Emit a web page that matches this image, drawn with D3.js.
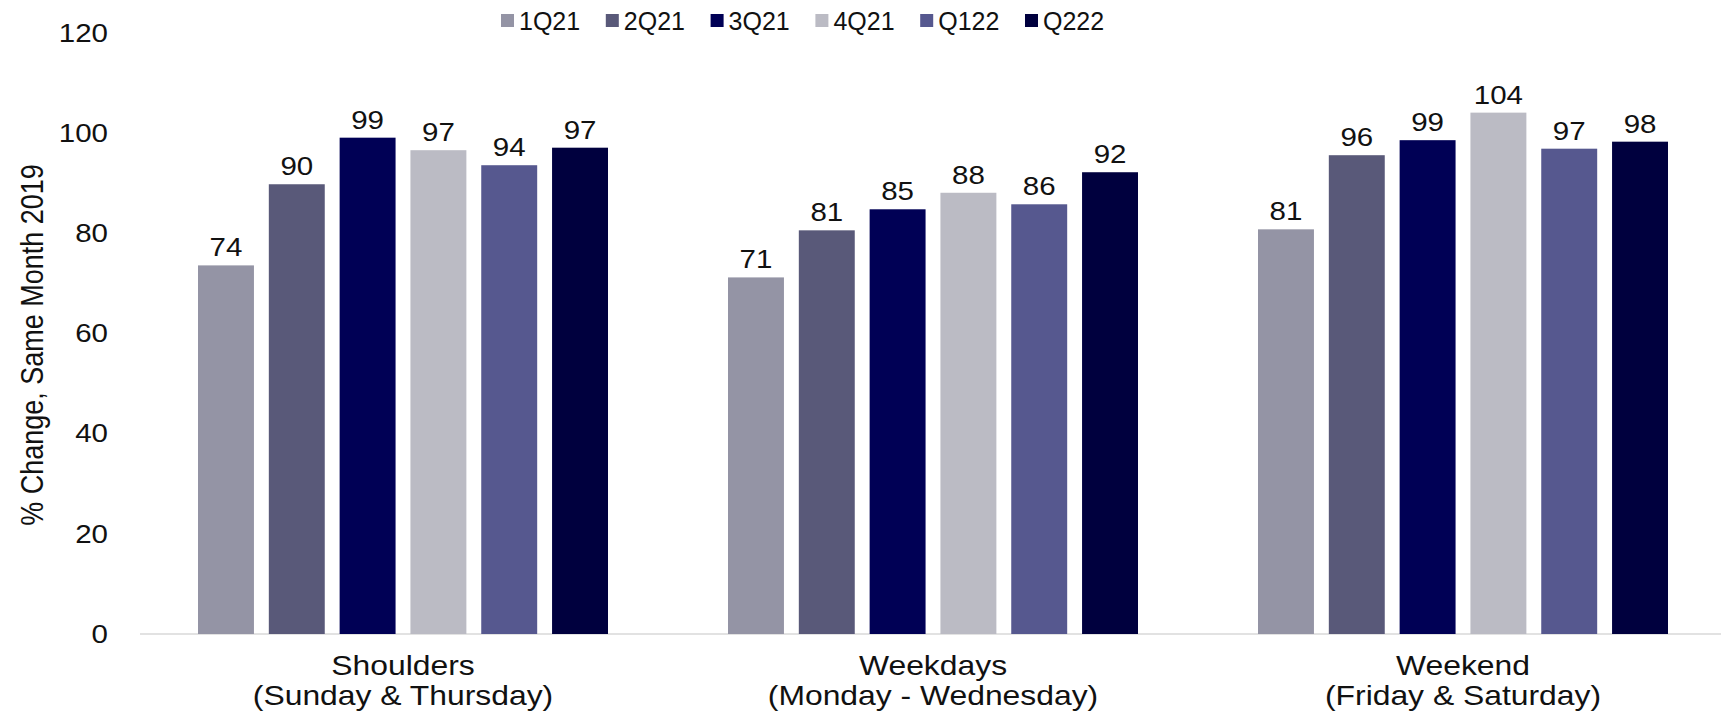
<!DOCTYPE html>
<html lang="en">
<head>
	<meta charset="UTF-8">
	<title>Document</title>
	<style type="text/css">
	  body { margin: 0; background: #fff; }
	  svg text { font-family: "Liberation Sans", Arial, sans-serif; fill: #111; }
	</style>
	<script src="https://cdn.jsdelivr.net/npm/d3@7"></script>
</head>
<body>
  <script type="text/javascript">
		// data
		var categories = [['Shoulders', '(Sunday & Thursday)'], ['Weekdays', '(Monday - Wednesday)'], ['Weekend', '(Friday & Saturday)']];
		var series = ['1Q21', '2Q21', '3Q21', '4Q21', 'Q122', 'Q222'];
		var shoulders = [73.6, 89.8, 99.1, 96.6, 93.6, 97.1];
		var weekdays = [71.2, 80.6, 84.8, 88.1, 85.8, 92.2];
		var weekend = [80.8, 95.6, 98.6, 104.1, 96.9, 98.3];
		var yTicks = [0, 20, 40, 60, 80, 100, 120];
		var colors = ['#9494a5', '#595979', '#000055', '#bbbbc4', '#56588f', '#00003e'];

		var values = [shoulders, weekdays, weekend];
		var width = 1721;
		var height = 712;
		var sx = 1.18;      // text in the picture is a bit stretched horizontally

		var svg = d3.select('body')
								.append('svg')
								.attr('width', width)
								.attr('height', height);

		var x0 = d3.scaleBand()
							 .domain(d3.range(categories.length))
							 .range([138, 1728]);
		var x1 = d3.scaleBand()
							 .domain(series)
							 .range([60, x0.bandwidth() - 60])
							 .paddingInner(0.21);
		var y = d3.scaleLinear()
							.domain([0, 120])
							.range([634, 33]);
		var color = d3.scaleOrdinal().domain(series).range(colors);

		// y axis labels
		svg.append('g')
			 .selectAll('text')
			 .data(yTicks)
			 .enter()
			 .append('text')
			 .attr('transform', function(d) { return 'translate(108,' + y(d) + ') scale(' + sx + ',1)'; })
			 .attr('text-anchor', 'end')
			 .attr('dy', '0.35em')
			 .attr('font-size', '25px')
			 .text(function(d) { return d; });

		// y title
		svg.append('text')
			 .attr('transform', 'translate(43,345) rotate(-90) scale(1,' + sx + ')')
			 .attr('text-anchor', 'middle')
			 .attr('font-size', '27px')
			 .text('% Change, Same Month 2019');

		// baseline
		svg.append('line')
			 .attr('x1', 140)
			 .attr('x2', width)
			 .attr('y1', y(0))
			 .attr('y2', y(0))
			 .attr('stroke', '#d9d9d9')
			 .attr('stroke-width', 1.5);

		// bars + labels
		var groups = svg.selectAll('g.cat')
										.data(values)
										.enter()
										.append('g')
										.attr('class', 'cat')
										.attr('transform', function(d, i) { return 'translate(' + x0(i) + ',0)'; });

		groups.selectAll('rect')
					.data(function(d) { return d.map(function(v, j) { return {key: series[j], value: v}; }); })
					.enter()
					.append('rect')
					.attr('x', function(d) { return x1(d.key); })
					.attr('y', function(d) { return y(d.value); })
					.attr('width', x1.bandwidth())
					.attr('height', function(d) { return y(0) - y(d.value); })
					.attr('fill', function(d) { return color(d.key); });

		groups.selectAll('text.val')
					.data(function(d) { return d.map(function(v, j) { return {key: series[j], value: v}; }); })
					.enter()
					.append('text')
					.attr('class', 'val')
					.attr('transform', function(d) { return 'translate(' + (x1(d.key) + x1.bandwidth() / 2) + ',' + (y(d.value) - 9) + ') scale(' + sx + ',1)'; })
					.attr('text-anchor', 'middle')
					.attr('font-size', '25px')
					.text(function(d) { return Math.round(d.value); });

		// category labels
		var catLabels = svg.selectAll('g.catlab')
											 .data(categories)
											 .enter()
											 .append('g')
											 .attr('class', 'catlab')
											 .attr('transform', function(d, i) { return 'translate(' + (x0(i) + x0.bandwidth() / 2) + ',0)'; });
		catLabels.selectAll('text')
						 .data(function(d) { return d; })
						 .enter()
						 .append('text')
						 .attr('transform', function(d, k) { return 'translate(0,' + (675 + k * 30) + ') scale(' + sx + ',1)'; })
						 .attr('text-anchor', 'middle')
						 .attr('font-size', '27px')
						 .text(function(d) { return d; });

		// legend
		var legend = svg.selectAll('g.leg')
										.data(series)
										.enter()
										.append('g')
										.attr('class', 'leg')
										.attr('transform', function(d, i) { return 'translate(' + (501 + i * 104.8) + ',21)'; });
		legend.append('rect')
					.attr('x', 0)
					.attr('y', -7)
					.attr('width', 13)
					.attr('height', 13)
					.attr('fill', function(d) { return color(d); });
		legend.append('text')
					.attr('transform', 'translate(18,0)')
					.attr('dy', '0.35em')
					.attr('font-size', '25px')
					.text(function(d) { return d; });
  </script>
</body>
</html>
